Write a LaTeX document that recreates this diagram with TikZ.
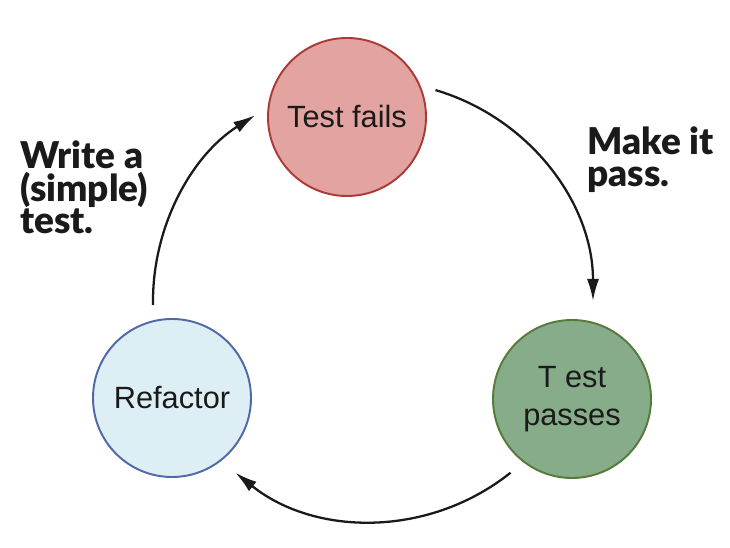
\documentclass[tikz,border=0pt]{standalone}
\usepackage{fontspec}
\setmainfont{Liberation Sans}
\newfontfamily\notefont{Lato}[BoldFont={Lato Black}]
\usetikzlibrary{arrows.meta}
\usetikzlibrary{calc}

\definecolor{failfill}{HTML}{E3A3A1}
\definecolor{failline}{HTML}{A93A37}
\definecolor{passfill}{HTML}{87AC89}
\definecolor{passline}{HTML}{557A3A}
\definecolor{refactorfill}{HTML}{DDEEF4}
\definecolor{refactorline}{HTML}{5068A8}
\definecolor{ink}{HTML}{1A1A1A}

\begin{document}
\begin{tikzpicture}[
      x = 0.2mm, y = 0.2mm,
      >={Latex[length=4.4mm, width=2.4mm]},
      phase/.style = {
        circle, line width = 1.1pt,
        minimum size = 31.6mm, inner sep = 0,
        text = ink, align = center,
        font = {\fontsize{17.5}{21.5}\selectfont}
      },
      failing/.style = { fill = failfill, draw = failline },
      passing/.style = { fill = passfill, draw = passline },
      cleaning/.style = { fill = refactorfill, draw = refactorline },
      cycle/.style = { ->, line width = 1.3pt, ink },
      note/.style = {
        anchor = base west, align = left, inner sep = 0, text = ink,
        font = {\notefont\bfseries\fontsize{21}{18.6}\selectfont}
      },
    ]

    \useasboundingbox (0,0) rectangle (730,548);

    %% the three phases
    \node[phase, failing] (fails) at (347,431) {Test fails};
    \node[phase, passing] (passes) at (572,149) {T est\\ passes};
    \node[phase, cleaning] (refactor) at (172,150) {Refactor};

    %% arrow ends on one big circle
    \coordinate (cycle) at (373,247);
    \coordinate (fails out) at ($(cycle)+(73.5:220)$);
    \coordinate (passes in) at ($(cycle)+(0:220)$);
    \coordinate (passes out) at ($(cycle)+(-51.3:220)$);
    \coordinate (refactor in) at ($(cycle)+(-128.7:220)$);
    \coordinate (refactor out) at ($(cycle)+(181:220)$);
    \coordinate (fails in) at ($(cycle)+(122.4:220)$);

    \draw[cycle] (fails out) to[bend left=36.75, looseness=0.95] (passes in);
    \draw[cycle] (passes out) to[bend left=38.7, looseness=0.96] (refactor in);
    \draw[cycle] (refactor out) to[bend left=29.3, looseness=0.91] (fails in);

    %% what to do (base is the last line)
    \node[note] (write) at (20,314) {Write a\\ (simple)\\ test.};
    \node[note] (make) at (587,361) {Make it\\ pass.};
  \end{tikzpicture}
\end{document}
